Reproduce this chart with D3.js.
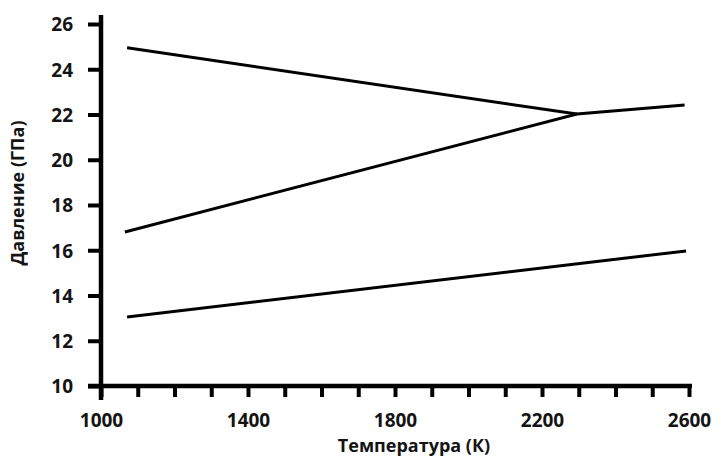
<!DOCTYPE html>
<html>
<head>
<meta charset="utf-8">
<script src="https://cdn.jsdelivr.net/npm/d3@7"></script>
<style>
  body { margin: 0; background: #fff; }
  text { font-family: "Open Sans", "Noto Sans", sans-serif; font-weight: bold; fill: #141414; }
</style>
</head>
<body>
<svg width="716" height="462"></svg>
<script>
// values (temperature K, pressure GPa)
const upperT = [1071, 2295]
const upperP = [24.95, 22.02]
const middleT = [1065, 2295, 2588]
const middleP = [16.81, 22.02, 22.42]
const lowerT = [1071, 2592]
const lowerP = [13.05, 15.97]

const xTicks = d3.range(1000, 2601, 100)
const xLabels = [1000, 1400, 1800, 2200, 2600]
const yTicks = [10, 12, 14, 16, 18, 20, 22, 24, 26]

const svg = d3.select('svg')
const x = d3.scaleLinear().domain([1000, 2600]).range([101, 689])
const y = d3.scaleLinear().domain([10, 26]).range([386, 24])

// y axis
const gy = svg.append('g')
  .attr('transform', `translate(${x(1000)},0)`)
  .call(d3.axisLeft(y).tickValues(yTicks).tickSize(13).tickPadding(15))
gy.select('.domain').remove()
gy.selectAll('line').attr('stroke', '#000').attr('stroke-width', 4)
gy.selectAll('text').style('font-size', '19px').attr('dy', '0.36em')

// x axis
const gx = svg.append('g')
  .attr('transform', `translate(0,${y(10)})`)
  .call(d3.axisBottom(x).tickValues(xTicks).tickSize(11)
    .tickFormat((d) => (xLabels.includes(d) ? d : '')))
gx.select('.domain').remove()
gx.selectAll('line').attr('stroke', '#000').attr('stroke-width', 4)
gx.selectAll('text').style('font-size', '19px').attr('y', 41).attr('dy', 0)

// axis lines, a bit past the end ticks like the original
svg.append('line')
  .attr('x1', x(1000)).attr('x2', x(1000))
  .attr('y1', y(26) - 9).attr('y2', y(10) + 14)
  .attr('stroke', '#000').attr('stroke-width', 4.5)
svg.append('line')
  .attr('x1', x(1000) - 13).attr('x2', x(2600) + 3)
  .attr('y1', y(10)).attr('y2', y(10))
  .attr('stroke', '#000').attr('stroke-width', 4.5)

// curves
const line = d3.line().x((d) => x(d[0])).y((d) => y(d[1]))
const series = [
  d3.zip(upperT, upperP),
  d3.zip(middleT, middleP),
  d3.zip(lowerT, lowerP)
]
svg.selectAll('.curve')
  .data(series)
  .enter()
  .append('path')
  .attr('class', 'curve')
  .attr('d', line)
  .style('fill', 'none')
  .style('stroke', '#000')
  .style('stroke-width', '3px')

// axis titles
svg.append('text')
  .attr('x', 414).attr('y', 452)
  .attr('text-anchor', 'middle')
  .style('font-size', '18px')
  .text('Температура (К)')
svg.append('text')
  .attr('transform', 'translate(24,193) rotate(-90)')
  .attr('text-anchor', 'middle')
  .style('font-size', '18px')
  .text('Давление (ГПа)')
</script>
</body>
</html>
